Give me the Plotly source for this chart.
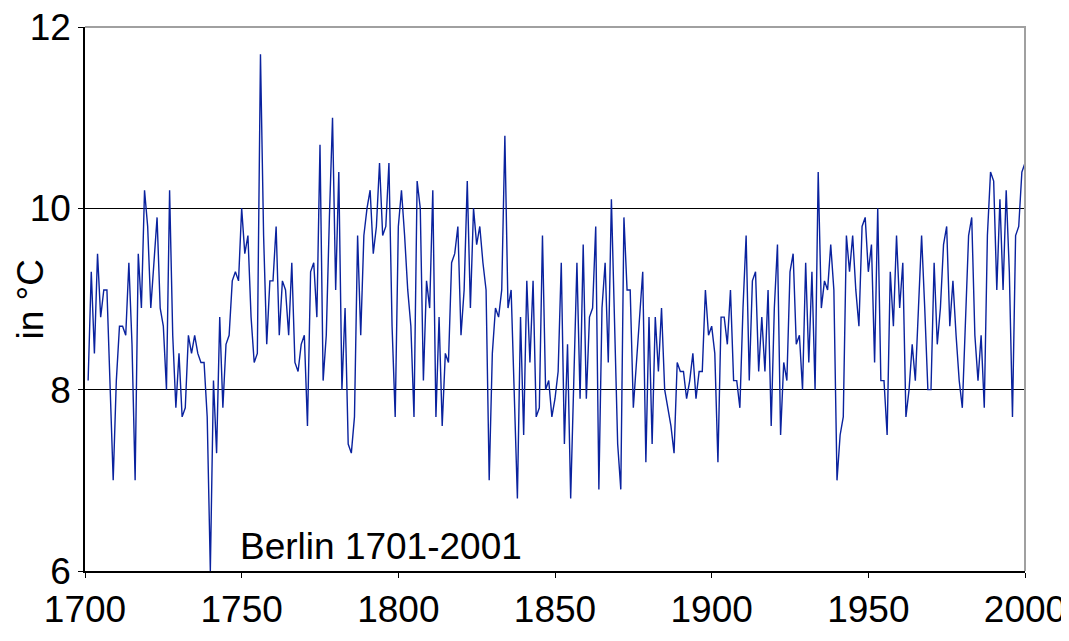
import plotly.graph_objects as go

# Annual mean temperature, Berlin (°C)
temps_1700s = [
    8.1, 9.3, 8.4, 9.5, 8.8, 9.1, 9.1, 8.0, 7.0, 8.1,
    8.7, 8.7, 8.6, 9.4, 8.5, 7.0, 9.5, 8.9, 10.2, 9.8,
    8.9, 9.4, 9.9, 8.9, 8.7, 8.0, 10.2, 8.6, 7.8, 8.4,
    7.7, 7.8, 8.6, 8.4, 8.6, 8.4, 8.3, 8.3, 7.7, 6.0,
    8.1, 7.3, 8.8, 7.8, 8.5, 8.6, 9.2, 9.3, 9.2, 10.0,
    9.5, 9.7, 8.8, 8.3, 8.4, 11.7, 9.7, 8.5, 9.2, 9.2,
    9.8, 8.6, 9.2, 9.1, 8.6, 9.4, 8.3, 8.2, 8.5, 8.6,
    7.6, 9.3, 9.4, 8.8, 10.7, 8.1, 8.6, 9.9, 11.0, 9.1,
    10.4, 8.0, 8.9, 7.4, 7.3, 7.7, 9.7, 8.6, 9.7, 10.0,
    10.2, 9.5, 9.8, 10.5, 9.7, 9.8, 10.5, 8.7, 7.7, 9.8,
]  # 1701-1800
temps_1800s = [
    10.2, 9.7, 9.1, 8.7, 7.7, 10.3, 10.0, 8.1, 9.2, 8.9,
    10.2, 7.7, 8.8, 7.6, 8.4, 8.3, 9.4, 9.5, 9.8, 8.6,
    9.1, 10.3, 8.9, 10.0, 9.6, 9.8, 9.4, 9.1, 7.0, 8.4,
    8.9, 8.8, 9.1, 10.8, 8.9, 9.1, 7.9, 6.8, 8.8, 7.5,
    9.2, 8.3, 9.2, 7.7, 7.8, 9.7, 8.0, 8.1, 7.7, 7.9,
    8.2, 9.4, 7.4, 8.5, 6.8, 8.2, 9.4, 7.9, 9.6, 7.9,
    8.8, 8.9, 9.8, 6.9, 8.9, 9.4, 8.3, 10.1, 8.7, 7.4,
    6.9, 9.9, 9.1, 9.1, 7.8, 8.3, 8.7, 9.3, 7.2, 8.8,
    7.4, 8.8, 8.2, 8.9, 8.0, 7.8, 7.6, 7.3, 8.3, 8.2,
    8.2, 7.9, 8.1, 8.4, 7.9, 8.2, 8.2, 9.1, 8.6, 8.7,
]  # 1801-1900
temps_1900s = [
    8.4, 7.2, 8.8, 8.8, 8.5, 9.1, 8.1, 8.1, 7.8, 8.9,
    9.7, 8.1, 9.2, 9.3, 8.2, 8.8, 8.2, 9.1, 7.6, 8.9,
    9.6, 7.5, 8.3, 8.1, 9.3, 9.5, 8.5, 8.6, 8.0, 9.4,
    8.3, 9.3, 8.0, 10.4, 8.9, 9.2, 9.1, 9.6, 9.1, 7.0,
    7.5, 7.7, 9.7, 9.3, 9.7, 9.1, 8.7, 9.8, 9.9, 9.3,
    9.6, 8.3, 10.0, 8.1, 8.1, 7.5, 9.3, 8.7, 9.7, 8.9,
    9.4, 7.7, 8.0, 8.5, 8.1, 8.9, 9.7, 8.9, 8.0, 8.0,
    9.4, 8.5, 8.9, 9.6, 9.8, 8.7, 9.2, 8.6, 8.1, 7.8,
    8.7, 9.7, 9.9, 8.6, 8.1, 8.6, 7.8, 9.7, 10.4, 10.3,
    9.1, 10.1, 9.1, 10.2, 9.3, 7.7, 9.7, 9.8, 10.4, 10.5,
]  # 1901-2000

temps = temps_1700s + temps_1800s + temps_1900s
first_year = 1701
years = list(range(first_year, first_year + len(temps)))

x_ticks = [1700, 1750, 1800, 1850, 1900, 1950, 2000]
y_ticks = [6, 8, 10, 12]
annotation_text = "Berlin 1701-2001"
y_title = "in °C"

FONT = "Liberation Sans, Arial, sans-serif"
FS = 37

fig = go.Figure()
fig.add_trace(go.Scatter(
    x=years, y=temps, mode="lines",
    line=dict(color="#0a229e", width=1.4),
    hoverinfo="x+y", showlegend=False,
))

# page body has an 8px margin, so the figure is placed at (8, 8)
fig.update_layout(
    template="none",
    width=1061, height=633,
    margin=dict(l=77, r=44, t=19, b=70, autoexpand=False),
    paper_bgcolor="white", plot_bgcolor="white",
    font=dict(family=FONT, size=FS, color="black"),
    xaxis=dict(
        range=[1700, 2000], tickmode="array", tickvals=x_ticks,
        showgrid=False, zeroline=False, automargin=False,
        showline=True, linecolor="black", linewidth=1.5,
        ticks="outside", ticklen=5, tickcolor="black", tickwidth=1,
        ticklabeloverflow="allow",
        tickfont=dict(family=FONT, size=FS, color="black"),
    ),
    yaxis=dict(
        range=[6, 12], tickmode="array", tickvals=y_ticks,
        showgrid=True, gridcolor="black", gridwidth=1, zeroline=False,
        automargin=False,
        showline=True, linecolor="black", linewidth=1.5,
        ticks="outside", ticklen=5, tickcolor="black", tickwidth=1,
        ticklabeloverflow="allow",
        tickfont=dict(family=FONT, size=FS, color="black"),
    ),
    shapes=[
        dict(type="path", xref="paper", yref="paper",
             path="M 0 1 L 1 1 L 1 0", line=dict(color="#a0a0a0", width=2),
             layer="above"),
    ],
    annotations=[
        dict(text=y_title, x=-0.059, y=0.5, xref="paper", yref="paper",
             xanchor="center", yanchor="middle", textangle=-90,
             showarrow=False, font=dict(family=FONT, size=FS, color="black")),
        dict(text=annotation_text, x=1748.8, y=6.27, xref="x", yref="y",
             xanchor="left", yanchor="middle", showarrow=False,
             font=dict(family=FONT, size=FS, color="black")),
    ],
)

fig.write_html("out.html")
